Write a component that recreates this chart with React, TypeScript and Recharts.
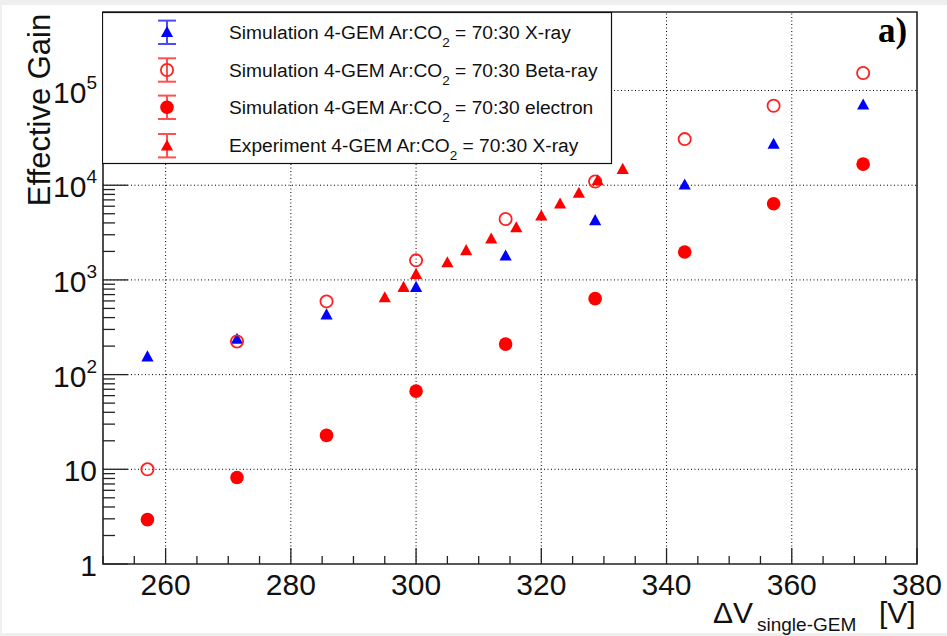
import {
  ScatterChart,
  Scatter,
  XAxis,
  YAxis,
  ReferenceLine,
  ReferenceArea,
  Legend,
} from "recharts";

const FONT = "'Liberation Sans', Arial, Helvetica, sans-serif";

// simulated points: dV across one GEM (V) and the effective gain
const simVoltage = [257.1, 271.4, 285.7, 300.0, 314.3, 328.6, 342.9, 357.1, 371.4];
const simXray = [155, 238, 430, 840, 1800, 4250, 10100, 27200, 70800];
const simBeta = [10, 224, 593, 1610, 4400, 10950, 30700, 69000, 153000];
const simElectron = [2.94, 8.2, 22.8, 67, 210, 634, 1970, 6380, 16700];

// measured points
const expVoltage = [295, 298, 300, 305, 308, 312, 316, 320, 323, 326, 329, 333];
const expXray = [653, 840, 1150, 1530, 2050, 2720, 3580, 4760, 6380, 8270, 11200, 14800];

const xMajor = [260, 280, 300, 320, 340, 360, 380];
const xTicks = [250, 255, 260, 265, 270, 275, 280, 285, 290, 295, 300, 305, 310, 315, 320, 325, 330, 335, 340, 345, 350, 355, 360, 365, 370, 375, 380];
const yMajor = [1, 10, 100, 1000, 10000, 100000];
const yTicks = [...yMajor, ...yMajor.flatMap((d) => [2, 3, 4, 5, 6, 7, 8, 9].map((m) => m * d))].filter((v) => v < 675000);

const legendRows = [
  { label: "Simulation 4-GEM Ar:CO", tail: " = 70:30 X-ray", marker: "triBlue" },
  { label: "Simulation 4-GEM Ar:CO", tail: " = 70:30 Beta-ray", marker: "open" },
  { label: "Simulation 4-GEM Ar:CO", tail: " = 70:30 electron", marker: "dot" },
  { label: "Experiment 4-GEM Ar:CO", tail: " = 70:30 X-ray", marker: "triRed" },
];

const toRows = (xs: number[], ys: number[]) => xs.map((v, i) => ({ v, g: ys[i] }));

function Marker({ kind, cx, cy }: { kind: string; cx: number; cy: number }) {
  if (kind === "triBlue" || kind === "triRed") {
    const c = kind === "triBlue" ? "#0000ff" : "#ff0000";
    return <polygon points={`${cx},${cy - 6.3} ${cx - 6.1},${cy + 4.8} ${cx + 6.1},${cy + 4.8}`} fill={c} />;
  }
  if (kind === "open") return <circle cx={cx} cy={cy} r={6.1} fill="none" stroke="#ff2020" strokeWidth={1.8} />;
  return <circle cx={cx} cy={cy} r={6.8} fill="#ff0000" />;
}

const shape = (kind: string) => (p: any) => <Marker kind={kind} cx={p.cx} cy={p.cy} />;

function YTick({ x, y, payload }: any) {
  const v = payload.value;
  const major = yMajor.includes(v);
  const exp = Math.round(Math.log10(v));
  return (
    <g>
      <line x1={x} x2={x + (major ? 25 : 12)} y1={y} y2={y} stroke="#222" strokeWidth={1.3} />
      {major && (
        <text x={x - 6} y={y} dy={12} textAnchor="end" fontSize={30} fontFamily={FONT} fill="#111">
          {v < 100 ? String(v) : (
            <>
              10<tspan fontSize={19} dy={-14}>{exp}</tspan>
            </>
          )}
        </text>
      )}
    </g>
  );
}

function XTick({ x, y, payload }: any) {
  const v = payload.value;
  const major = xMajor.includes(v);
  return (
    <g>
      <line x1={x} x2={x} y1={y} y2={y - (major ? 16 : 8)} stroke="#222" strokeWidth={1.3} />
      {major && (
        <text x={x} y={y + 31} textAnchor="middle" fontSize={30} fontFamily={FONT} fill="#111">
          {v}
        </text>
      )}
    </g>
  );
}

function XTitle() {
  return (
    <g fontFamily={FONT} fill="#111">
      <text x={713} y={623} fontSize={30}>ΔV</text>
      <text x={757} y={631} fontSize={19}>single-GEM</text>
      <text x={879} y={623} fontSize={30}>[V]</text>
    </g>
  );
}

function YTitle() {
  return (
    <text transform="rotate(-90)" x={-110} y={50} textAnchor="middle" fontSize={31} fontFamily={FONT} fill="#111">
      Effective Gain
    </text>
  );
}

function LegendBox() {
  const rowY = [20.3, 58, 95.3, 133.7];
  return (
    <svg width={511} height={153} style={{ display: "block" }}>
      <rect x={0.5} y={0.5} width={509} height={151} fill="#fff" stroke="#111" strokeWidth={1.2} />
      {legendRows.map((r, i) => {
        const cy = rowY[i];
        const bar = r.marker === "triBlue" ? "#4a4aff" : "#ff5050";
        return (
          <g key={i}>
            <line x1={65} x2={65} y1={cy - 11.7} y2={cy + 11.7} stroke={bar} strokeWidth={2} />
            <line x1={56} x2={74} y1={cy - 11.7} y2={cy - 11.7} stroke={bar} strokeWidth={2} />
            <line x1={56} x2={74} y1={cy + 11.7} y2={cy + 11.7} stroke={bar} strokeWidth={2} />
            <Marker kind={r.marker} cx={65} cy={cy} />
            <text x={127} y={cy + 6.5} fontSize={19.2} fontFamily={FONT} fill="#111">
              {r.label}
              <tspan fontSize={13.5} dy={8}>2</tspan>
              <tspan dy={-8}>{r.tail}</tspan>
            </text>
          </g>
        );
      })}
    </svg>
  );
}

export default function App() {
  return (
    <div style={{ position: "absolute", left: 0, top: 0, width: 947, height: 636, background: "#efefef" }}>
      <div style={{ position: "absolute", left: 2, top: 5, width: 945, height: 628, background: "#fff" }} />
      <div style={{ position: "absolute", left: 0, top: 0 }}>
        <ScatterChart width={947} height={636} margin={{ top: 12, right: 30, bottom: 0, left: 0 }}>
          <XAxis
            type="number"
            dataKey="v"
            domain={[250, 380]}
            allowDataOverflow
            ticks={xTicks}
            interval={0}
            tickLine={false}
            axisLine={false}
            tickSize={0}
            tickMargin={0}
            tick={<XTick />}
            height={72}
            label={<XTitle />}
          />
          <YAxis
            type="number"
            dataKey="g"
            scale="log"
            domain={[1, 675000]}
            allowDataOverflow
            ticks={yTicks}
            interval={0}
            tickLine={false}
            axisLine={false}
            tickSize={0}
            tickMargin={0}
            tick={<YTick />}
            width={103}
            label={<YTitle />}
          />
          {xMajor.slice(0, -1).map((v) => (
            <ReferenceLine key={`gx${v}`} x={v} stroke="#000" strokeWidth={1} strokeDasharray="1 2.5" />
          ))}
          {yMajor.slice(1).map((v) => (
            <ReferenceLine key={`gy${v}`} y={v} stroke="#000" strokeWidth={1} strokeDasharray="1 2.5" />
          ))}
          <ReferenceArea x1={250} x2={380} y1={1} y2={675000} fill="none" stroke="#222" strokeWidth={1.6} />
          <Scatter data={toRows(simVoltage, simXray)} shape={shape("triBlue")} isAnimationActive={false} />
          <Scatter data={toRows(simVoltage, simBeta)} shape={shape("open")} isAnimationActive={false} />
          <Scatter data={toRows(simVoltage, simElectron)} shape={shape("dot")} isAnimationActive={false} />
          <Scatter data={toRows(expVoltage, expXray)} shape={shape("triRed")} isAnimationActive={false} />
          <Legend
            layout="horizontal"
            align="center"
            verticalAlign="middle"
            width={511}
            height={153}
            wrapperStyle={{ position: "absolute", left: 102, top: 12, width: 511, height: 153, margin: 0 }}
            content={() => <LegendBox />}
          />
        </ScatterChart>
      </div>
      <div
        style={{
          position: "absolute",
          left: 878,
          top: 12.7,
          fontFamily: "'Liberation Serif', 'Times New Roman', serif",
          fontWeight: "bold",
          fontSize: 35,
          lineHeight: "35px",
          color: "#000",
        }}
      >
        a)
      </div>
    </div>
  );
}
